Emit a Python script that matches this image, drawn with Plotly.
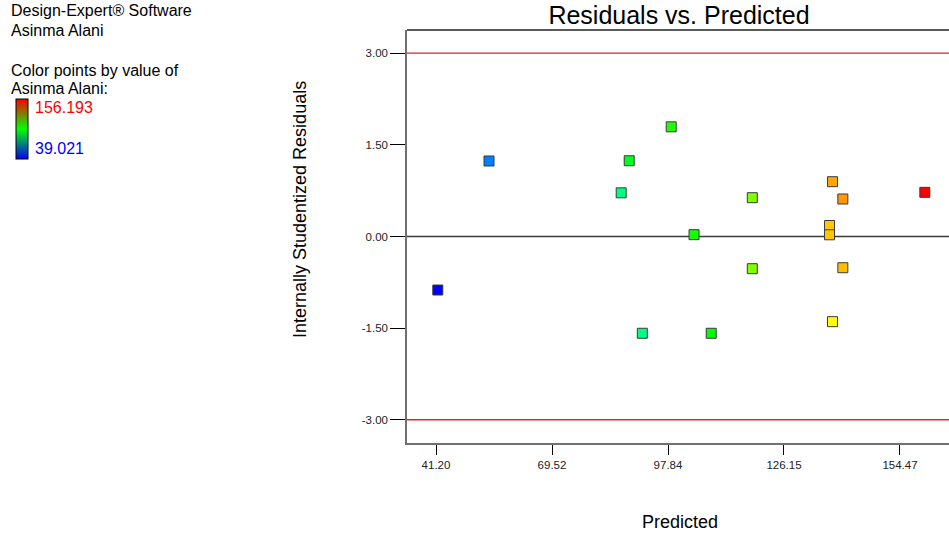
import plotly.graph_objects as go

# Diagnostic data: predicted response, internally studentized residuals,
# and the observed response used to colour each run
predicted = [41.64, 54.14, 98.62, 88.37, 86.41, 104.19, 91.57, 108.39,
             118.42, 118.42, 138.00, 140.52, 137.27, 137.27, 140.52, 138.00, 160.54]
residuals = [-0.876, 1.236, 1.795, 1.240, 0.715, 0.030, -1.584, -1.584,
             0.635, -0.527, 0.897, 0.614, 0.180, 0.028, -0.511, -1.394, 0.723]
observed = [39.02, 53.7, 101.5, 93.6, 83.0, 100.0, 83.0, 97.0,
            112.3, 112.3, 137.2, 138.6, 133.3, 133.3, 134.2, 126.9, 156.19]

resp_min, resp_max = 39.021, 156.193
x_ticks = [41.20, 69.52, 97.84, 126.15, 154.47]
x_ticklabels = ["41.20", "69.52", "97.84", "126.15", "154.47"]
y_ticks = [-3.0, -1.5, 0.0, 1.5, 3.0]
y_ticklabels = ["-3.00", "-1.50", "0.00", "1.50", "3.00"]
limit = 3.0

W, H = 949, 538
ML, MR, MT, MB = 407, 0, 30, 95
PW, PH = W - ML - MR, H - MT - MB


def px(xp):
    return (xp - ML) / PW


def py(yp):
    return (H - MB - yp) / PH


FONT = "Arial, Liberation Sans, sans-serif"

# hue ramp for the points: blue -> cyan -> green -> yellow -> red
hue_scale = [[0.0, "#0000FF"], [0.25, "#00FFFF"], [0.5, "#00FF00"],
             [0.75, "#FFFF00"], [1.0, "#FF0000"]]
# legend bar ramp
bar_scale = [[0.0, "#0000FF"], [0.5, "#00FF00"], [1.0, "#FF0000"]]

fig = go.Figure()

fig.add_trace(go.Scatter(
    x=predicted, y=residuals, mode="markers",
    marker=dict(symbol="square", size=10, color=observed,
                colorscale=hue_scale, cmin=resp_min, cmax=resp_max,
                line=dict(color="#3a3a3a", width=1), showscale=False),
    hoverinfo="x+y", showlegend=False,
))

# colour key
fig.add_trace(go.Scatter(
    x=[None], y=[None], mode="markers", showlegend=False, hoverinfo="skip",
    marker=dict(color=[resp_min], colorscale=bar_scale, cmin=resp_min, cmax=resp_max,
                showscale=True,
                colorbar=dict(x=px(16), xanchor="left", y=py(129), yanchor="middle",
                              thickness=12, len=60, lenmode="pixels",
                              xpad=0, ypad=0, outlinewidth=1, outlinecolor="black",
                              showticklabels=False, ticks="")),
))

# reference lines
shapes = [
    dict(type="line", xref="paper", x0=0, x1=1, yref="y", y0=limit, y1=limit,
         line=dict(color="#D42A2A", width=1.2)),
    dict(type="line", xref="paper", x0=0, x1=1, yref="y", y0=-limit, y1=-limit,
         line=dict(color="#E8262A", width=1.5)),
    dict(type="line", xref="paper", x0=0, x1=1, yref="y", y0=0, y1=0,
         line=dict(color="#3a3a3a", width=1.5), layer="below"),
    dict(type="line", xref="paper", x0=0, x1=1, yref="paper", y0=1, y1=1,
         line=dict(color="#222222", width=1.5)),
]

annotations = [
    dict(text="Design-Expert® Software", x=px(9), y=py(11)),
    dict(text="Asinma Alani", x=px(9), y=py(30)),
    dict(text="Color points by value of", x=px(9), y=py(70)),
    dict(text="Asinma Alani:", x=px(9), y=py(88)),
    dict(text=f"{resp_max:.3f}", x=px(33), y=py(108), color="#FF0000"),
    dict(text=f"{resp_min:.3f}", x=px(33), y=py(148), color="#0000FF"),
]
ann = []
for a in annotations:
    ann.append(dict(text=a["text"], xref="paper", yref="paper", x=a["x"], y=a["y"],
                    xanchor="left", yanchor="middle", showarrow=False,
                    font=dict(family=FONT, size=16, color=a.get("color", "black"))))

ann.append(dict(text="Internally Studentized Residuals", xref="paper", yref="paper",
                x=px(300), y=py(210), xanchor="center", yanchor="middle",
                textangle=-90, showarrow=False,
                font=dict(family=FONT, size=18, color="black")))
ann.append(dict(text="Predicted", xref="paper", yref="paper",
                x=px(680), y=py(522), xanchor="center", yanchor="middle",
                showarrow=False, font=dict(family=FONT, size=18, color="black")))

fig.update_layout(
    width=W, height=H,
    margin=dict(l=ML, r=MR, t=MT, b=MB, pad=0),
    paper_bgcolor="white", plot_bgcolor="white",
    title=dict(text="Residuals vs. Predicted", x=px(679), xref="paper", xanchor="center",
               y=1 - 15 / H, yref="container", yanchor="middle",
               font=dict(family=FONT, size=25, color="black")),
    xaxis=dict(range=[34.12, 166.44], tickmode="array", tickvals=x_ticks,
               ticktext=x_ticklabels, ticks="outside", ticklen=10, tickwidth=1,
               tickcolor="black", showgrid=False, zeroline=False,
               showline=True, linecolor="#707070", linewidth=1.5,
               tickfont=dict(family=FONT, size=11.5, color="#222222")),
    yaxis=dict(range=[-3.38, 3.38], tickmode="array", tickvals=y_ticks,
               ticktext=y_ticklabels, ticks="outside", ticklen=15, tickwidth=1,
               tickcolor="black", showgrid=False, zeroline=False,
               showline=True, linecolor="#707070", linewidth=1.5,
               tickfont=dict(family=FONT, size=11.5, color="#222222")),
    shapes=shapes,
    annotations=ann,
    hovermode="closest",
)

fig.write_html("out.html")
